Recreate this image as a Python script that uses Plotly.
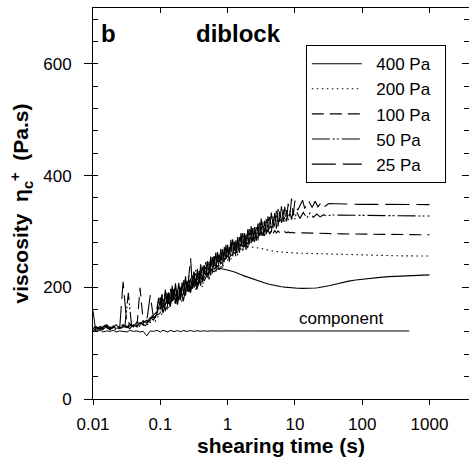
import plotly.graph_objects as go

# ---------------- sampling times (s) ----------------
T = [0.010, 0.011, 0.013, 0.014, 0.016, 0.018, 0.020, 0.022, 0.025, 0.028,
     0.032, 0.035, 0.040, 0.045, 0.050, 0.056, 0.063, 0.071, 0.079, 0.089,
     0.10, 0.11, 0.13, 0.14, 0.16, 0.18, 0.20, 0.22, 0.25, 0.28,
     0.32, 0.35, 0.40, 0.45, 0.50, 0.56, 0.63, 0.71, 0.79, 0.89,
     1.0, 1.1, 1.3, 1.4, 1.6, 1.8, 2.0, 2.2, 2.5, 2.8,
     3.2, 3.5, 4.0, 4.5, 5.0, 5.6, 6.3, 7.1, 7.9, 8.9,
     10, 11, 13, 14, 16, 18, 20, 22, 25, 28,
     32, 40, 50, 63, 80, 100, 130, 160, 200, 250,
     320, 400, 500, 630, 800, 1000]

T_b = [0.0106, 0.0119, 0.0133, 0.0150, 0.0168, 0.0188, 0.0211, 0.0237, 0.0266, 0.0299,
       0.0335, 0.0376, 0.0422, 0.0473, 0.0531, 0.0596, 0.0668, 0.075, 0.0841, 0.0944,
       0.106, 0.119, 0.133, 0.150, 0.168, 0.188, 0.211, 0.237, 0.266, 0.299,
       0.335, 0.376, 0.422, 0.473, 0.531, 0.596, 0.668, 0.750, 0.841, 0.944,
       1.06, 1.19, 1.33, 1.50, 1.68, 1.88, 2.11, 2.37, 2.66, 2.99,
       3.35, 3.76, 4.22, 4.73, 5.31, 5.96, 6.68, 7.50, 8.41, 9.44,
       10.6, 11.9, 13.3, 15.0, 16.8, 18.8, 21.1, 23.7, 26.6, 29.9,
       34, 40, 50, 63, 80, 100, 130, 160, 200, 250,
       320, 400, 500, 630, 800, 1000]

# dense sampling 0.1 - 10 s
T_mid = [0.100, 0.106, 0.112, 0.119, 0.126, 0.133, 0.141, 0.150, 0.158, 0.168,
         0.178, 0.188, 0.200, 0.211, 0.224, 0.237, 0.251, 0.266, 0.282, 0.299,
         0.316, 0.335, 0.355, 0.376, 0.398, 0.422, 0.447, 0.473, 0.501, 0.531,
         0.562, 0.596, 0.631, 0.668, 0.708, 0.750, 0.794, 0.841, 0.891, 0.944,
         1.00, 1.06, 1.12, 1.19, 1.26, 1.33, 1.41, 1.50, 1.58, 1.68,
         1.78, 1.88, 2.00, 2.11, 2.24, 2.37, 2.51, 2.66, 2.82, 2.99,
         3.16, 3.35, 3.55, 3.76, 3.98, 4.22, 4.47, 4.73, 5.01, 5.31,
         5.62, 5.96, 6.31, 6.68, 7.08, 7.50, 7.94, 8.41, 8.91, 9.44,
         10.0]

# ---------------- viscosity values (Pa.s) ----------------
v400 = [127, 122, 129, 124, 131, 125, 128, 133, 126, 130,
        128, 135, 129, 138, 134, 140, 137, 146, 141, 152,
        175, 154, 187, 165, 197, 169, 199, 175, 211, 190,
        222, 196, 224, 211, 224, 230, 228, 233, 233.5, 232.5,
        231, 229.5, 227, 225, 222.5, 220, 218, 216, 213.5, 211.5,
        209.5, 208, 206, 204.5, 203, 202, 201, 200.2, 199.5, 199,
        198.6, 198.3, 198.1, 198, 198, 198.2, 198.6, 199.2, 200.2, 201.3,
        202.8, 205.5, 208.5, 211, 213, 214.5, 216, 217.2, 218.2, 219,
        219.8, 220.4, 221, 221.5, 221.9, 222.2]

v200 = [124, 128, 123, 130, 125, 131, 127, 126, 132, 128,
        137, 131, 134, 130, 139, 133, 134, 147, 139, 150,
        152, 188, 163, 199, 168, 200, 174, 210, 190, 224,
        195, 230, 200, 237, 215, 251, 227, 259, 233, 264,
        251, 269, 266, 272, 274, 273.5, 273, 272, 271, 270,
        268.5, 267.5, 266, 265, 264, 263.3, 262.7, 262.2, 261.8, 261.5,
        261.2, 261, 260.6, 260.4, 260.2, 260, 259.8, 259.6, 259.4, 259.2,
        259, 258.7, 258.4, 258.1, 257.8, 257.5, 257.2, 257, 256.8, 256.6,
        256.4, 256.3, 256.2, 256.1, 256, 256]

v100_early = [122, 126, 130, 125, 128, 124, 131, 126, 129, 133,
              128, 131, 135, 130, 199, 136, 141, 137, 150, 156]
v100_mid = [182, 156, 180, 157, 190, 170, 198, 170, 195, 171,
            195, 172, 205, 184, 213, 185, 210, 188, 218, 197,
            228, 203, 228, 200, 229, 209, 240, 219, 244, 214,
            245, 225, 256, 232, 257, 231, 257, 238, 272, 246,
            271, 246, 279, 257, 281, 253, 282, 262, 291, 265,
            290, 267, 302, 277, 301, 278, 307, 284, 307, 287,
            309, 292, 306, 294, 304, 295, 303, 296, 302, 297,
            301, 297.5, 300, 297.5, 299.5, 297.5, 299, 297.5, 298.5, 297.5,
            298]
v100_late = [297.8, 297.5, 297.3, 297, 296.8, 296.6, 296.4, 296.2, 296, 295.9,
             295.8, 295.6, 295.4, 295.2, 295, 294.9, 294.7, 294.6, 294.5, 294.4,
             294.3, 294.2, 294.1, 294, 294]

v50_early = [130, 125, 127, 132, 126, 129, 124, 130, 127, 132,
             190, 129, 134, 128, 136, 131, 139, 148, 143, 181]
v50_mid = [154, 188, 163, 191, 160, 191, 169, 203, 177, 204,
           175, 204, 177, 206, 186, 219, 192, 220, 192, 219,
           199, 231, 201, 230, 203, 237, 216, 245, 217, 246,
           219, 254, 232, 262, 234, 259, 235, 268, 245, 276,
           248, 272, 250, 286, 260, 284, 257, 290, 267, 297,
           270, 295, 269, 304, 279, 306, 281, 308, 283, 318,
           293, 317, 292, 323, 300, 326, 298, 327, 307, 337,
           309, 336, 314, 339, 318, 338, 320, 337, 321, 336,
           322]
v50_late = [335, 323, 334, 324, 333, 325, 331, 326, 330, 327,
            329.5, 329.3, 329.1, 328.9, 328.7, 328.5, 328.4, 328.3, 328.2, 328.1,
            328, 327.9, 327.8, 327.7, 327.6, 327.5]

v25_early = [126, 130, 124, 128, 133, 127, 131, 126, 129, 210,
             131, 126, 133, 129, 137, 132, 140, 186, 145, 151]
v25_mid = [153, 186, 164, 196, 166, 191, 168, 201, 176, 207,
           182, 208, 178, 209, 187, 219, 190, 220, 252, 203,
           227, 199, 233, 209, 241, 212, 238, 215, 247, 225,
           255, 228, 255, 228, 263, 241, 269, 242, 269, 244,
           276, 253, 285, 255, 282, 258, 290, 267, 297, 270,
           297, 269, 304, 281, 309, 281, 308, 282, 314, 291,
           323, 292, 319, 295, 327, 304, 334, 306, 333, 305,
           340, 317, 345, 317, 344, 318, 350, 327, 359, 328,
           355]
v25_late = [338, 356, 341, 355, 343, 354, 344, 353, 345, 350,
            349.5, 349, 348.8, 348.6, 348.5, 348.5, 348.4, 348.4, 348.3, 348.3,
            348.2, 348.2, 348.2, 348.1, 348]

# component (homopolymer) up to 500 s
Tc = T[:83]
vcomp = [158, 121, 123, 120, 122, 121, 123, 120, 122, 121,
         120, 123, 121, 122, 120, 121, 113, 122, 121, 123,
         120, 123, 120, 123, 120.5, 122.5, 120.5, 122.5, 121, 122.5,
         121, 122.3, 121.2, 122.2, 121.3, 122, 121.5, 122, 121.6, 121.9,
         121.7, 121.9, 121.8, 121.8, 121.8, 121.8, 121.8, 121.8, 121.8, 121.8,
         121.8, 121.8, 121.8, 121.8, 121.8, 121.8, 121.8, 121.8, 121.8, 121.8,
         121.8, 121.8, 121.8, 121.8, 121.8, 121.8, 121.8, 121.8, 121.8, 121.8,
         121.8, 121.8, 121.8, 121.8, 121.8, 121.8, 121.8, 121.8, 121.8, 121.8,
         121.8, 121.8, 121.8]

series_names = ["400 Pa", "200 Pa", "100 Pa", "50 Pa", "25 Pa"]
series_times = [T, T_b,
                T[:20] + T_mid + T[61:],
                T_b[:20] + T_mid + T_b[60:],
                T[:20] + T_mid + T[61:]]
series_vals = [v400, v200,
               v100_early + v100_mid + v100_late,
               v50_early + v50_mid + v50_late,
               v25_early + v25_mid + v25_late]
dashes = ["solid", "1.5px,3.5px", "12px,6px", "18px,3px,2px,2px,2px,3px", "24px,7px"]

x_ticks = [0.01, 0.1, 1, 10, 100, 1000]
x_ticktext = ["0.01", "0.1", "1", "10", "100", "1000"]
y_ticks = [0, 200, 400, 600]

FONT = "Liberation Sans, Arial, sans-serif"
PRE = "\u00a0\u00a0"
PAD = "\u00a0\u00a0"

fig = go.Figure()
for name, tt, vals, dash in zip(series_names, series_times, series_vals, dashes):
    fig.add_trace(go.Scatter(x=tt, y=vals, mode="lines", name=PRE + name + PAD,
                             line=dict(color="black", width=1.1, dash=dash)))
fig.add_trace(go.Scatter(x=Tc, y=vcomp, mode="lines", name="component",
                         showlegend=False, line=dict(color="black", width=1)))
# helper trace so that mirrored (top/right) tick axes are drawn
fig.add_trace(go.Scatter(x=[1], y=[0], xaxis="x2", yaxis="y2", mode="markers",
                         marker=dict(opacity=0), showlegend=False, hoverinfo="skip"))

fig.update_layout(
    width=469, height=467,
    margin=dict(l=93, r=0, t=8, b=68),
    plot_bgcolor="white", paper_bgcolor="white",
    font=dict(family=FONT, color="black", size=17),
    showlegend=True,
    legend=dict(x=0.566, y=0.905, xanchor="left", yanchor="top",
                bordercolor="black", borderwidth=1, bgcolor="white",
                font=dict(size=17), tracegroupgap=0, itemwidth=50),
    xaxis=dict(type="log", range=[-2, 3.587], tickvals=x_ticks, ticktext=x_ticktext,
               ticks="outside", ticklen=5, tickcolor="black", showline=True,
               linecolor="black", linewidth=1, showgrid=False, zeroline=False,
               ticklabelstandoff=5,
               title=dict(text="<b>shearing time (s)</b>", font=dict(size=21), standoff=4)),
    yaxis=dict(range=[0, 700], tickvals=y_ticks, ticks="outside", ticklen=8,
               tickcolor="black", showline=True, linecolor="black", linewidth=1,
               showgrid=False, zeroline=False, ticklabelstandoff=9,
               minor=dict(ticks="inside", dtick=40, tick0=0, ticklen=5, tickcolor="black"),
               title=dict(text="<b>viscosity  η<sub>c</sub><sup>+</sup>  (Pa.s)</b>",
                          font=dict(size=21), standoff=8)),
    xaxis2=dict(type="log", range=[-2, 3.587], overlaying="x", side="top", anchor="y",
                tickvals=x_ticks, showticklabels=False, ticks="inside", ticklen=5,
                tickcolor="black", showline=True, linecolor="black", linewidth=1,
                showgrid=False, zeroline=False),
    yaxis2=dict(range=[0, 700], overlaying="y", side="right", anchor="x",
                tickvals=y_ticks, showticklabels=False, ticks="inside", ticklen=7,
                tickcolor="black", showline=False, showgrid=False, zeroline=False,
                minor=dict(ticks="inside", dtick=40, tick0=0, ticklen=5, tickcolor="black")),
)

fig.add_annotation(x=-1.765, y=655, text="<b>b</b>", showarrow=False,
                   font=dict(size=24, family=FONT))
fig.add_annotation(x=0.159, y=655, text="<b>diblock</b>", showarrow=False,
                   font=dict(size=24, family=FONT))
fig.add_annotation(x=1.682, y=145, text="component", showarrow=False,
                   font=dict(size=17, family=FONT))

fig.write_html("out.html")
